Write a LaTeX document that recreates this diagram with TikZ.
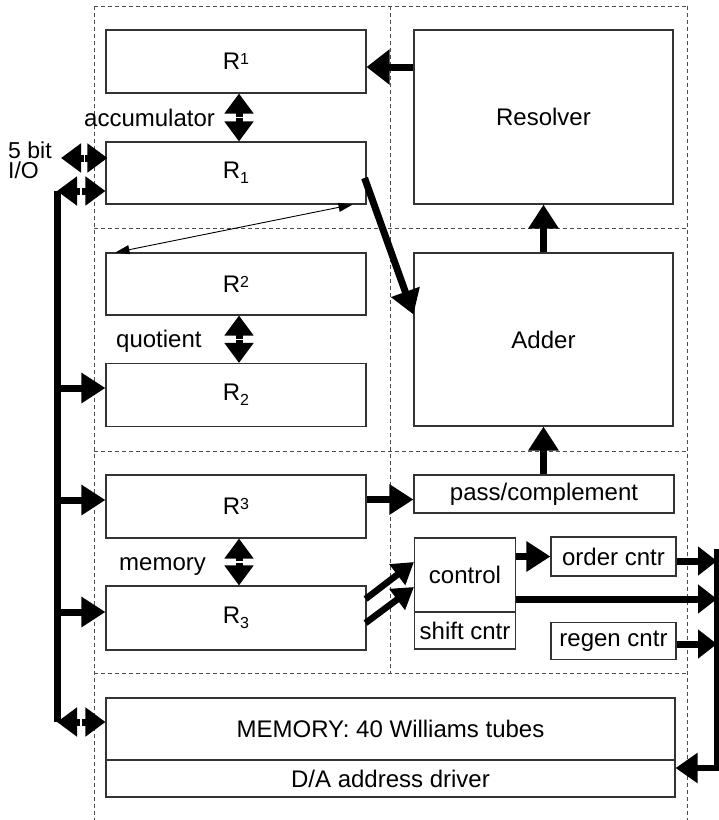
\documentclass[tikz,border=0pt]{standalone}
\usepackage{fontspec}
\setmainfont{Liberation Sans}
\usetikzlibrary{arrows.meta,calc}
\newcommand\dblarr[3][]{%
  \path (#2) -- coordinate[pos=0.485] (dA) coordinate[pos=0.515] (dB) (#3);
  \draw[dbl,#1] (dA) -- (#2);
  \draw[dbl,#1] (dB) -- (#3);}
\newcommand\supr[1]{\raisebox{5pt}{\fontsize{16}{16}\selectfont #1}}
\newcommand\subr[1]{\raisebox{-5pt}{\fontsize{16}{16}\selectfont #1}}
\begin{document}
\begin{tikzpicture}[x=1pt,y=-1pt,
  every node/.style={font=\fontsize{24}{28}\selectfont, inner sep=0pt},
  box/.style={draw=black!80, line width=1.1pt, minimum width=260pt},
  divider/.style={draw=black!70, line width=0.8pt, dash pattern=on 4pt off 3pt},
  fat/.style={line width=7pt, -{Triangle[length=24pt,width=29pt]}},
  fatR/.style={line width=7pt, -{Triangle[length=19pt,width=28pt]}},
  fatD/.style={line width=6.5pt, -{Triangle[length=21pt,width=25pt]}},
  dbl/.style={line width=7pt, -{Triangle[length=20pt,width=28pt]}},
  thinarr/.style={line width=0.9pt, {Triangle[length=14pt,width=9pt]}-{Triangle[length=14pt,width=9pt]}},
  lbl/.style={anchor=base west}]
\fill[white] (0,0) rectangle (719,820);
\useasboundingbox (0,0) rectangle (719,820);

% dashed partitions
\draw[divider] (94,6) -- (687,6);
\draw[divider] (94,6) -- (94,820);
\draw[divider] (687,6) -- (687,820);
\draw[divider] (390,6) -- (390,673);
\draw[divider] (94,228) -- (687,228);
\draw[divider] (94,451) -- (687,451);
\draw[divider] (94,673) -- (687,673);

% boxes
\node[box, minimum height=63pt] (R1u) at (236,61.5) {R\supr{1}};
\node[box, minimum height=62pt] (R1l) at (236,173) {R\subr{1}};
\node[box, minimum height=62pt] (R2u) at (236,284) {R\supr{2}};
\node[box, minimum height=63pt] (R2l) at (236,395) {R\subr{2}};
\node[box, minimum height=63pt] (R3u) at (236,506.5) {R\supr{3}};
\node[box, minimum height=64pt] (R3l) at (236,618) {R\subr{3}};
\node[box, minimum width=259pt, minimum height=174pt] (Res) at (543.5,117) {Resolver};
\node[box, minimum width=259pt, minimum height=173pt] (Add) at (543.5,339.5) {Adder};
\node[box, minimum height=38pt] (pass) at (544,494) {pass/complement};
\node[box, minimum width=101pt, minimum height=74pt] (ctl) at (465,575) {control};
\node[box, minimum width=101pt, minimum height=37pt] (shift) at (465,630.5) {shift cntr};
\node[box, minimum width=125pt, minimum height=39pt] (order) at (613.5,556.5) {order cntr};
\node[box, minimum width=125pt, minimum height=37pt] (regen) at (613.5,641) {regen cntr};
\node[box, minimum width=569pt, minimum height=62pt] (mem) at (390.5,729) {MEMORY: 40 Williams tubes};
\node[box, minimum width=569pt, minimum height=37pt] (DA) at (390.5,778.5) {D/A address driver};

% labels
\node[lbl] (acc) at (84,126) {accumulator};
\node[lbl] (quo) at (116,347) {quotient};
\node[lbl] (memlbl) at (119,570) {memory};
\node[lbl, align=left, font=\fontsize{23}{20}\selectfont] (io1) at (8,178) {5 bit\\I/O};

% register pairs
\dblarr{[xshift=3pt]R1u.south}{[xshift=3pt]R1l.north}
\dblarr{[xshift=3pt]R2u.south}{[xshift=3pt]R2l.north}
\dblarr{[xshift=3pt]R3u.south}{[xshift=3pt]R3l.north}

% resolver -> R1
\path ([yshift=-5.5pt]R1u.east) coordinate (r1in);
\draw[line width=7pt, -{Triangle[length=23pt,width=34pt]}] (Res.west |- r1in) -- (r1in);
% R1 -> adder
\draw[fat] ([xshift=-2pt,yshift=-5pt]R1l.east) -- ([yshift=25pt]Add.west);
% thin double arrow
\draw[thinarr] ([xshift=10pt]R2u.north west) -- ([xshift=-14pt]R1l.south east);
% adder -> resolver, pass -> adder
\draw[fat] (Add.north) -- (Res.south);
\draw[fat] (pass.north -| Add.south) -- (Add.south);
% R3 -> pass
\path ([yshift=-5.5pt]pass.west) coordinate (pin);
\draw[fat] (R3u.east |- pin) -- (pin);
% R3 -> control
\draw[fatD] ([xshift=-1pt,yshift=19pt]R3l.east) -- ([yshift=13pt]ctl.west);
\draw[fatD] ([xshift=-1pt,yshift=-5pt]R3l.east) -- ([yshift=-12pt]ctl.west);
% control -> order
\draw[fat] (ctl.east |- order.west) -- (order.west);

% right bus
\coordinate (rbt) at (717,549);
\coordinate (rbb) at (717,768);
\coordinate (ro) at (717,561);
\coordinate (rc) at (717,599);
\coordinate (rr) at (717,644);
\draw[line width=6pt, -{Triangle[length=22pt,width=29pt]}] (rbt) -- (rbb) -- (rbb -| DA.east);
\draw[fatR] (order.east |- ro) -- (ro);
\draw[fatR] (ctl.east |- rc) -- (rc);
\draw[fatR] (regen.east |- rr) -- (rr);

% left bus
\coordinate (lbt) at (57,191);
\coordinate (lbb) at (57,722);
\coordinate (io) at (61,158);
\coordinate (b2) at (57,388);
\coordinate (b3) at (57,500);
\coordinate (b4) at (57,612);
\draw[line width=7pt] (lbt) -- (lbb);
\dblarr{lbt}{lbt -| R1l.west}
\dblarr{io}{[xshift=2pt]io -| R1l.west}
\dblarr{lbb}{lbb -| mem.west}
\draw[fat] (b2) -- (b2 -| R2l.west);
\draw[fat] (b3) -- (b3 -| R3u.west);
\draw[fat] (b4) -- (b4 -| R3l.west);
\end{tikzpicture}
\end{document}
